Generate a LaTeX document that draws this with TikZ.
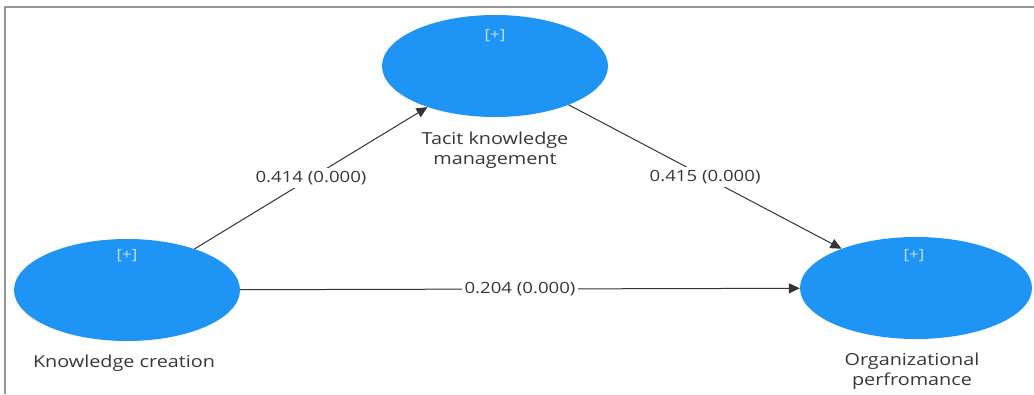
\documentclass[tikz,border=0pt]{standalone}
\usepackage{fontspec}
\setmainfont[FakeStretch = 1.2]{Open Sans}
\usetikzlibrary{arrows.meta, shapes.geometric}
\definecolor{lvblue}{RGB}{30,148,245}
\definecolor{txtgray}{RGB}{55,55,55}
\definecolor{framegray}{RGB}{150,150,150}

\begin{document}
\begin{tikzpicture}[x = 1pt, y = -1pt, line cap = round, line join = round,
  latent/.style = {ellipse, fill = lvblue, inner sep = 0, minimum width = 226pt, minimum height = 102pt},
  plus/.style = {text = white!75!lvblue, font = \fontsize{14}{16}\selectfont},
  caption/.style = {text = txtgray, align = center, font = \fontsize{16.5}{20}\selectfont},
  link/.style = {draw = black!80, line width = 1pt, -{Triangle[length = 11pt, width = 10pt]}},
  coef/.style = {fill = white, text = txtgray, inner sep = 3pt, font = \fontsize{15.5}{18}\selectfont}]

  \useasboundingbox (0, 0) rectangle (1034, 394);

  % frame
  \draw[framegray, line width = 2pt, line cap = butt] (5, 394) -- (5, 7) -- (1034, 7);

  % latent variables
  \node[latent] (tkm) at (495, 66) {};
  \node[latent] (kc) at (127, 290) {};
  \node[latent, minimum width = 232pt] (op) at (916, 288) {};

  \node[plus] (tkmplus) at (495, 36) {[+]};
  \node[plus] (kcplus) at (127, 256) {[+]};
  \node[plus] (opplus) at (914, 256) {[+]};

  \node[caption] (tkmname) at (495, 150) {Tacit knowledge\\management};
  \node[caption] (kcname) at (124, 363) {Knowledge creation};
  \node[caption] (opname) at (912, 371) {Organizational\\perfromance};

  % paths
  \draw[link] (kc) -- node[coef] (kctkm) {0.414 (0.000)} (tkm);
  \draw[link] (tkm) -- node[coef] (tkmop) {0.415 (0.000)} (op);
  \draw[link] (kc) -- node[coef] (kcop) {0.204 (0.000)} (op);
\end{tikzpicture}
\end{document}
